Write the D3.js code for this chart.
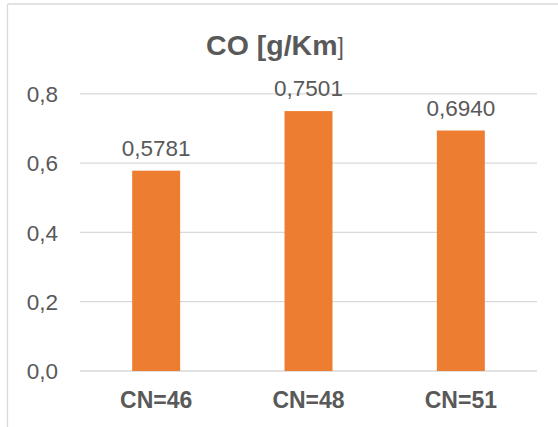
<!DOCTYPE html>
<html><head><meta charset="utf-8">
<script src="https://cdn.jsdelivr.net/npm/d3@7"></script>
<style>html,body{margin:0;padding:0;background:#fff;}svg{display:block;}</style>
</head><body>
<script>
const categories = ["CN=46", "CN=48", "CN=51"];
const values = [0.5781, 0.7501, 0.6940];
const labels = ["0,5781", "0,7501", "0,6940"];
const yTicks = [0, 0.2, 0.4, 0.6, 0.8];
const title = "CO [g/Km";
const titleEnd = "]";

const W = 558, H = 427;
const svg = d3.select("body").append("svg").attr("width", W).attr("height", H);
const font = "Arial, 'Liberation Sans', sans-serif";
const txt = "#595959";

// chart border (left and top visible)
svg.append("line").attr("x1", 7.5).attr("x2", 7.5).attr("y1", 4).attr("y2", H).attr("stroke", "#d9d9d9").attr("stroke-width", 1.3);
svg.append("line").attr("x1", 7.5).attr("x2", W).attr("y1", 4).attr("y2", 4).attr("stroke", "#d9d9d9").attr("stroke-width", 1.3);

const x = d3.scaleBand().domain(categories).range([80, 537]).paddingInner(0.685).paddingOuter(0.3425);
const y = d3.scaleLinear().domain([0, 0.8]).range([371, 93.8]);

// gridlines
svg.append("g").selectAll("line").data(yTicks).join("line")
  .attr("x1", 80).attr("x2", 537)
  .attr("y1", d => y(d)).attr("y2", d => y(d))
  .attr("stroke", "#d9d9d9").attr("stroke-width", 1.3);

// y axis labels
const yAxis = d3.axisLeft(y).tickValues(yTicks).tickSize(0).tickPadding(0)
  .tickFormat(d => d3.format(".1f")(d).replace(".", ","));
const gy = svg.append("g").attr("transform", "translate(58,0)").call(yAxis);
gy.select(".domain").remove();
gy.selectAll("text").attr("fill", txt).style("font-family", font).style("font-size", "22.5px").attr("dy", "0.35em");

// bars
svg.append("g").selectAll("rect").data(values).join("rect")
  .attr("x", (d, i) => x(categories[i]))
  .attr("width", x.bandwidth())
  .attr("y", d => y(d))
  .attr("height", d => y(0) - y(d))
  .attr("fill", "#ED7D31");

// data labels
svg.append("g").selectAll("text").data(values).join("text")
  .attr("x", (d, i) => x(categories[i]) + x.bandwidth() / 2)
  .attr("y", d => y(d) - 15)
  .attr("text-anchor", "middle")
  .attr("fill", txt).style("font-family", font).style("font-size", "22.5px")
  .text((d, i) => labels[i]);

// x axis labels
const xAxis = d3.axisBottom(x).tickSize(0).tickPadding(0);
const gx = svg.append("g").attr("transform", "translate(0,408)").call(xAxis);
gx.select(".domain").remove();
gx.selectAll("text").attr("fill", txt).attr("dy", 0).style("font-family", font).style("font-size", "23px").style("font-weight", "bold");

// title
const t = svg.append("text").attr("x", 275).attr("y", 55).attr("text-anchor", "middle")
  .attr("fill", txt).style("font-family", font).style("font-weight", "bold").style("font-size", "28.5px");
t.append("tspan").text(title);
t.append("tspan").style("font-size", "23px").style("font-weight", "normal").text(titleEnd);
</script>
</body></html>
